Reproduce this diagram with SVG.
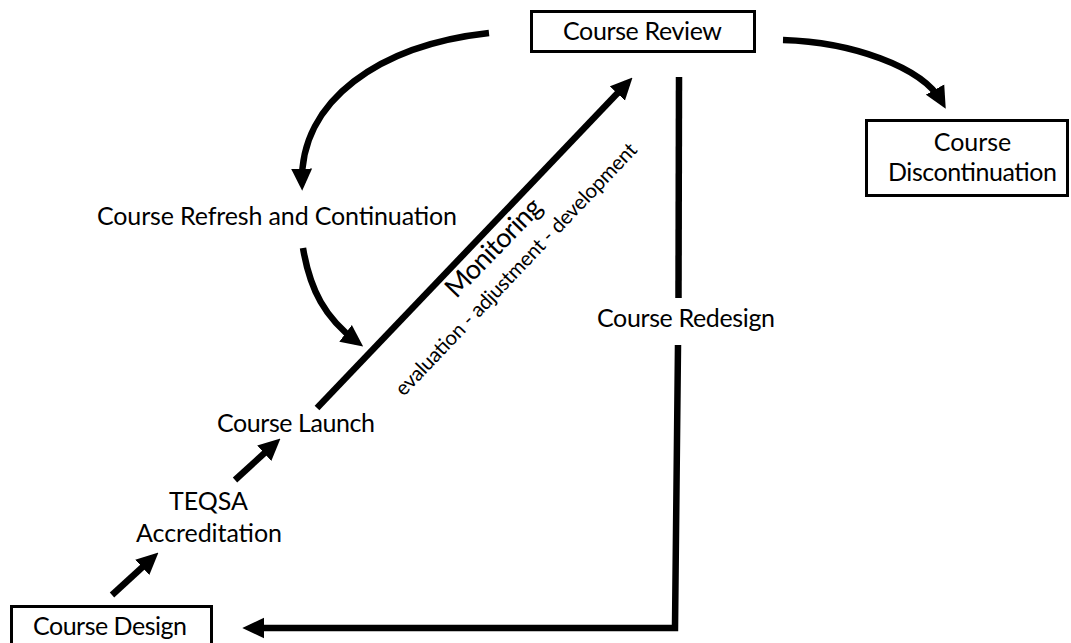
<svg xmlns="http://www.w3.org/2000/svg" width="1071" height="643" viewBox="0 0 1071 643">
<style>
.lbl{font-family:Lato,"Liberation Sans",sans-serif;font-size:25px;fill:#000}
.box{fill:#fff;stroke:#000;stroke-width:3}
.con{fill:none;stroke:#000;stroke-width:6.5}
</style>
<defs>
<marker id="ah" markerUnits="userSpaceOnUse" markerWidth="22" markerHeight="22" viewBox="0 0 20 20" refX="13" refY="10" orient="auto">
<path d="M0,0.5 L20,10 L0,19.5 z" fill="#000"/>
</marker>
</defs>
<rect width="1071" height="643" fill="#fff"/>
<g id="connectors">
<path class="con" d="M489,33 C380,45 300,100 302,183" marker-end="url(#ah)"/>
<path class="con" d="M303,248 C310,290 325,318 357,342" marker-end="url(#ah)"/>
<path class="con" d="M783,40 C850,42 922,66 942,102" marker-end="url(#ah)"/>
<path class="con" d="M317,408 L627.2,83.1" marker-end="url(#ah)"/>
<path class="con" d="M235,480 L274.8,443.7" marker-end="url(#ah)"/>
<path class="con" d="M112,595 L152.8,557.7" marker-end="url(#ah)"/>
<path class="con" d="M679,77 L678.5,298"/>
<path class="con" d="M678,345 L675,628 L250,628" stroke-linejoin="miter" marker-end="url(#ah)"/>
</g>
<g id="course-review">
<rect class="box" x="531.5" y="11.5" width="223" height="40"/>
<text class="lbl" x="642.5" y="40" text-anchor="middle" textLength="159">Course Review</text>
</g>
<g id="course-discontinuation">
<rect class="box" x="866.5" y="120.5" width="201" height="75"/>
<text class="lbl" x="972.5" y="151" text-anchor="middle">Course</text>
<text class="lbl" x="972.5" y="181" text-anchor="middle" textLength="169">Discontinuation</text>
</g>
<g id="course-refresh">
<text class="lbl" x="277" y="225" text-anchor="middle" textLength="360">Course Refresh and Continuation</text>
</g>
<g id="monitoring">
<text class="lbl" transform="translate(500,254) rotate(-46)" text-anchor="middle" textLength="126" style="font-size:27px">Monitoring</text>
<text class="lbl" transform="translate(521,274) rotate(-46.4)" text-anchor="middle" textLength="340" style="font-size:20.5px">evaluation - adjustment - development</text>
</g>
<g id="course-redesign">
<text class="lbl" x="686" y="327" text-anchor="middle" textLength="178">Course Redesign</text>
</g>
<g id="course-launch">
<text class="lbl" x="296" y="432" text-anchor="middle" textLength="158">Course Launch</text>
</g>
<g id="teqsa">
<text class="lbl" x="208.5" y="510" text-anchor="middle">TEQSA</text>
<text class="lbl" x="209" y="542" text-anchor="middle" textLength="146">Accreditation</text>
</g>
<g id="course-design">
<rect class="box" x="11.5" y="606.5" width="200" height="50"/>
<text class="lbl" x="110" y="635" text-anchor="middle" textLength="154">Course Design</text>
</g>
</svg>
